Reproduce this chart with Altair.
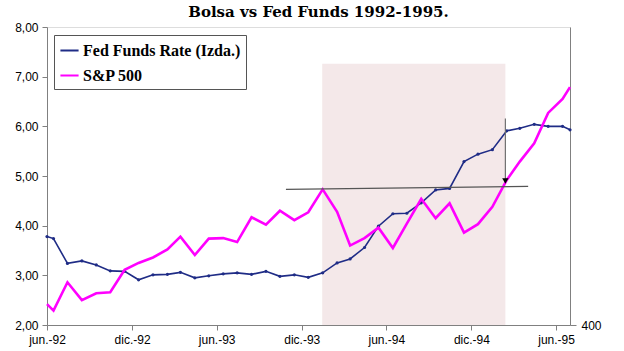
import altair as alt
import pandas as pd

# ---------------- data ----------------
fed_label = "Fed Funds Rate (Izda.)"
sp_label = "S&P 500"

# first day of jun-92, mid-month points jun-92 .. jun-95, first day of jul-95
months = [(1992 + (5 + i) // 12, (5 + i) % 12 + 1) for i in range(37)]
dates = (["1992-06-01T00:00:00"]
         + [f"{y}-{m:02d}-15T00:00:00" for y, m in months]
         + ["1995-07-01T00:00:00"])

fed_funds = [3.78, 3.74, 3.24, 3.29, 3.21, 3.09, 3.08, 2.91,
             3.01, 3.02, 3.06, 2.95, 2.99, 3.03, 3.05, 3.02, 3.08, 2.98, 3.01, 2.96,
             3.05, 3.25, 3.33, 3.56, 3.99, 4.24, 4.25, 4.46, 4.72, 4.75, 5.29, 5.44,
             5.53, 5.91, 5.96, 6.04, 6.00, 6.00, 5.93]

sp500 = [2.42, 2.29, 2.86, 2.50, 2.64, 2.66, 3.11, 3.25,
         3.36, 3.52, 3.78, 3.41, 3.74, 3.75, 3.67, 4.17, 4.02, 4.30, 4.11, 4.27,
         4.73, 4.28, 3.60, 3.75, 3.96, 3.55, 4.04, 4.54, 4.15, 4.45, 3.86, 4.03,
         4.38, 4.92, 5.29, 5.66, 6.27, 6.55, 6.79]

tick_months = [(1992, 6), (1992, 12), (1993, 6), (1993, 12), (1994, 6), (1994, 12), (1995, 6)]
tick_labels = ["jun.-92", "dic.-92", "jun.-93", "dic.-93", "jun.-94", "dic.-94", "jun.-95"]

# shaded period
shade_start = ["1994-01-14T00:00:00"]
shade_end = ["1995-02-12T00:00:00"]
shade_low = [2.0]
shade_high = [7.26]

# horizontal reference line
hline_dates = ["1993-10-28T00:00:00", "1995-04-02T00:00:00"]
hline_values = [4.73, 4.79]

# vertical arrow
arrow_date = ["1995-02-12T00:00:00"]
arrow_top = [6.16]
arrow_bottom = [4.90]

right_axis_values = [400]

# ---------------- styles ----------------
navy = "#1F2C86"
magenta = "#FF00FF"
axis_gray = "#808080"
font_sans = "Liberation Sans"
font_serif = "Liberation Serif"

df = pd.DataFrame({
    "date": dates * 2,
    "value": fed_funds + sp500,
    "series": [fed_label] * len(dates) + [sp_label] * len(dates),
})

x_scale = alt.Scale(domain=[alt.DateTime(year=1992, month=6, date=1),
                            alt.DateTime(year=1995, month=7, date=1)])
y_scale = alt.Scale(domain=[2, 8], nice=False, zero=False)

label_array = "[" + ",".join(f"'{t}'" for t in tick_labels) + "]"
x_axis = alt.Axis(
    values=[alt.DateTime(year=y, month=m, date=1) for y, m in tick_months],
    labelExpr=label_array + "[round((year(datum.value)-1992)*2 + (month(datum.value)-5)/6)]",
    grid=False, domainColor=axis_gray, tickColor=axis_gray, tickSize=5,
    labelFont=font_sans, labelFontSize=12, labelColor="#000", labelPadding=4,
    labelFlush=False, labelOverlap=False,
)
y_axis = alt.Axis(
    values=[2, 3, 4, 5, 6, 7, 8], format=".2f",
    labelExpr="replace(datum.label, '.', ',')",
    grid=False, domainColor=axis_gray, tickColor=axis_gray, tickSize=5,
    labelFont=font_sans, labelFontSize=12, labelColor="#000", labelPadding=4,
)

X = alt.X("date:T", title=None, scale=x_scale, axis=x_axis)
Y = alt.Y("value:Q", title=None, scale=y_scale, axis=y_axis)

color = alt.Color(
    "series:N",
    scale=alt.Scale(domain=[fed_label, sp_label], range=[navy, magenta]),
    legend=alt.Legend(
        title=None, orient="none", legendX=7, legendY=8,
        symbolType="stroke", symbolSize=330, symbolStrokeWidth=2,
        labelFont=font_serif, labelFontSize=16, labelFontWeight="bold",
        labelColor="#000", labelOffset=3, rowPadding=6, padding=5,
        strokeColor="#555555", fillColor="white", labelLimit=400,
    ),
)

shade_df = pd.DataFrame({"date": shade_start, "date_end": shade_end,
                         "value": shade_low, "value_end": shade_high})
shade = alt.Chart(shade_df).mark_rect(color="#F4E8E9").encode(
    x=X, x2="date_end:T", y=Y, y2="value_end:Q")

blue = alt.Chart(df).transform_filter(alt.datum.series == fed_label).mark_line(
    strokeWidth=1.6, point=alt.OverlayMarkDef(filled=True, size=10, color=navy)
).encode(x=X, y=Y, color=color)

pink = alt.Chart(df).transform_filter(alt.datum.series == sp_label).mark_line(
    strokeWidth=2.6
).encode(x=X, y=Y, color=color)

hline_df = pd.DataFrame({"date": hline_dates, "value": hline_values})
hline = alt.Chart(hline_df).mark_line(color="#555555", strokeWidth=1.2).encode(x=X, y=Y)

arrow_df = pd.DataFrame({"date": arrow_date, "value": arrow_top, "value_end": arrow_bottom})
vline = alt.Chart(arrow_df).mark_rule(color="#707070", strokeWidth=1.2).encode(
    x=X, y=Y, y2="value_end:Q")
head = alt.Chart(arrow_df).mark_point(
    shape="triangle-down", filled=True, color="#000", size=40, opacity=1
).encode(x=X, y=alt.Y("value_end:Q", title=None, scale=y_scale, axis=y_axis))

main = alt.layer(shade, blue, pink, hline, vline, head)

right = alt.Chart(pd.DataFrame({"v": right_axis_values})).mark_point(opacity=0).encode(
    y=alt.Y("v:Q", title=None, scale=alt.Scale(domain=[400, 1000], nice=False, zero=False),
            axis=alt.Axis(orient="right", values=right_axis_values, format="d", grid=False,
                          domainColor=axis_gray, tickColor=axis_gray, tickSize=6,
                          labelFont=font_sans, labelFontSize=12, labelColor="#000",
                          labelPadding=5)))

chart = alt.layer(main, right).resolve_scale(y="independent").properties(
    width=523, height=298,
    title=alt.Title("Bolsa vs Fed Funds 1992-1995.", font="DejaVu Serif", fontSize=15,
                    fontWeight="bold", color="#000", anchor="middle", offset=1, dx=10),
    autosize=alt.AutoSizeParams(type="none"),
    padding={"left": 47, "top": 27, "right": 54, "bottom": 26},
).configure_view(stroke=None).configure(background="white")

chart.save("out.html", embed_options={"renderer": "svg", "actions": False})
